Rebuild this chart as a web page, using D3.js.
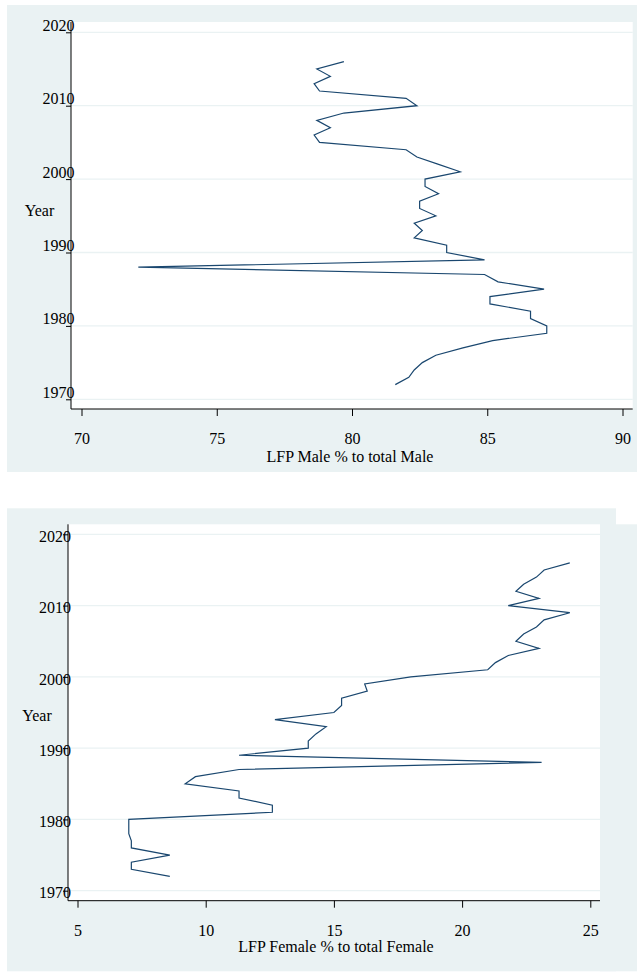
<!DOCTYPE html>
<html>
<head>
<meta charset="utf-8">
<script src="https://cdn.jsdelivr.net/npm/d3@7"></script>
<style>
body { margin:0; background:#fff; }
svg { display:block; }
text { font-family:"Liberation Serif","Times New Roman",serif; fill:#000; }
</style>
</head>
<body>
<svg width="639" height="973"></svg>
<script>
// data, 1972..2016
var years = d3.range(1972, 2017);
var maleLFP = [81.6,82.1,82.3,82.6,83.1,84.1,85.2,87.2,87.2,86.6,
               86.6,85.1,85.1,87.1,85.4,84.9,72.1,84.9,83.5,83.5,
               82.3,82.6,82.3,83.1,82.5,82.5,83.2,82.7,82.7,84.0,
               83.2,82.4,82.0,78.8,78.6,79.2,78.7,79.7,82.4,82.0,
               78.8,78.6,79.2,78.7,79.7];
var femaleLFP = [8.6,7.1,7.1,8.6,7.1,7.1,7.0,7.0,7.0,12.6,
                 12.6,11.3,11.3,9.2,9.6,11.3,23.1,11.3,14.0,14.0,
                 14.3,14.7,12.7,15.0,15.3,15.3,16.3,16.2,18.0,21.0,
                 21.3,21.8,23.0,22.1,22.4,22.9,23.2,24.2,21.8,23.0,
                 22.1,22.4,22.9,23.2,24.2];
var yearTicks = [1970,1980,1990,2000,2010,2020];
var maleTicks = [70,75,80,85,90];
var femaleTicks = [5,10,15,20,25];

var svg = d3.select("svg");
var bg = "#eaf2f3";
var lineColor = "#1a476f";

var drawChart = function(values, xTicks, xTitle, box)
{
    var g = svg.append("g");

    // outer panel
    box.panels.forEach(function(p){
        g.append("rect").attr("x",p[0]).attr("y",p[1])
         .attr("width",p[2]).attr("height",p[3]).attr("fill",bg);
    });
    // plot region
    g.append("rect")
     .attr("x",box.left).attr("y",box.top)
     .attr("width",box.right-box.left).attr("height",box.bottom-box.top)
     .attr("fill","#fff");

    var xScale = d3.scaleLinear()
        .domain([xTicks[0],xTicks[xTicks.length-1]])
        .range(box.xRange);
    var yScale = d3.scaleLinear()
        .domain([1970,2020])
        .range(box.yRange);

    // grid
    g.selectAll(".grid").data(yearTicks).enter().append("line")
     .attr("x1",box.left).attr("x2",box.right)
     .attr("y1",function(d){return yScale(d);})
     .attr("y2",function(d){return yScale(d);})
     .attr("stroke",bg).attr("stroke-width",1.3);

    // line
    var line = d3.line()
        .x(function(d){return xScale(d.v);})
        .y(function(d){return yScale(d.y);});
    var pts = years.map(function(y,i){return {y:y,v:values[i]};});
    g.append("path").datum(pts)
     .attr("d",line)
     .attr("fill","none")
     .attr("stroke",lineColor)
     .attr("stroke-width",1.2)
     .attr("stroke-linejoin","miter");

    // x axis
    var xAxis = d3.axisBottom(xScale).tickValues(xTicks).tickSize(7).tickPadding(17)
        .tickFormat(d3.format("d"));
    var xg = g.append("g")
        .attr("transform","translate(0,"+box.bottom+")")
        .call(xAxis);
    xg.select(".domain").remove();
    xg.append("line").attr("x1",box.left).attr("x2",box.right)
      .attr("y1",0).attr("y2",0).attr("stroke","#000");
    xg.selectAll("text").attr("font-size",16).attr("font-family","Liberation Serif").attr("fill","#000");

    // y axis, labels overlap the axis line like the original
    var yAxis = d3.axisLeft(yScale).tickValues(yearTicks).tickSize(5).tickPadding(box.labelPad)
        .tickFormat(d3.format("d"));
    var yg = g.append("g")
        .attr("transform","translate("+box.left+",0)")
        .call(yAxis);
    yg.select(".domain").remove();
    yg.append("line").attr("x1",0).attr("x2",0)
      .attr("y1",box.top).attr("y2",box.bottom).attr("stroke","#000");
    yg.selectAll("text").attr("font-size",16).attr("font-family","Liberation Serif")
      .attr("fill","#000").attr("dy",box.labelDy);

    // titles
    g.append("text").attr("x",box.titleX).attr("y",box.titleY)
     .attr("text-anchor","middle").attr("dominant-baseline","central")
     .attr("font-size",16).text(xTitle);
    g.append("text").attr("x",box.yearX).attr("y",box.yearY)
     .attr("text-anchor","middle").attr("dominant-baseline","central")
     .attr("font-size",16).text("Year");
};

drawChart(maleLFP, maleTicks, "LFP Male % to total Male", {
    panels:[[7,5,630,467]],
    left:71, right:632.7, top:22, bottom:409,
    xRange:[81.5,622.5], yRange:[399.3,32.3],
    labelPad:-8.5, labelDy:"-0.12em",
    titleX:350, titleY:456, yearX:39.5, yearY:210
});

drawChart(femaleLFP, femaleTicks, "LFP Female % to total Female", {
    panels:[[7,508.3,609,463],[600,524.3,37,447]],
    left:68, right:600, top:524.3, bottom:900.7,
    xRange:[77.5,590.3], yRange:[890.7,534.3],
    labelPad:-8, labelDy:"0.45em",
    titleX:336, titleY:946.7, yearX:37, yearY:715
});
</script>
</body>
</html>
